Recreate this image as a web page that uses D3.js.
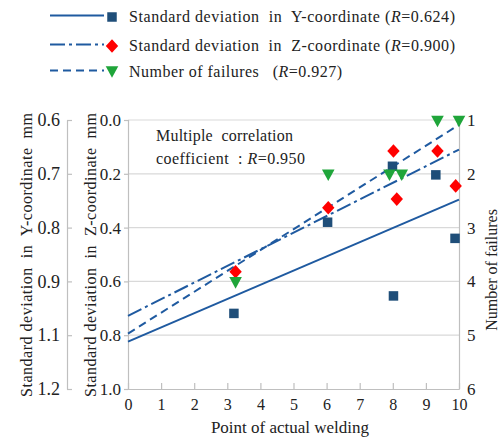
<!DOCTYPE html>
<html><head><meta charset="utf-8">
<script src="https://cdn.jsdelivr.net/npm/d3@7"></script>
<style>body{margin:0;background:#fff}svg{display:block}
svg text{font-family:"Liberation Serif","Tinos","Times New Roman","DejaVu Serif","Noto Serif",serif !important;fill:#222;white-space:pre}</style>
</head><body><svg id="c" width="502" height="437"></svg>
<script>
// ---- data ----
const xTicks = [0,1,2,3,4,5,6,7,8,9,10];
const zTicks = [0.0,0.2,0.4,0.6,0.8,1.0];
const yTicks = [0.6,0.7,0.8,0.9,1.1,1.2];
const fTicks = [1,2,3,4,5,6];
// Standard deviation in Y-coordinate (squares)
const sqX = [3.2, 6.03, 7.99, 8.02, 9.3, 9.88];
const sqY = [1.019, 0.79, 0.686, 0.954, 0.702, 0.82];
// Standard deviation in Z-coordinate (diamonds)
const diX = [3.25, 6.05, 8.02, 8.12, 9.35, 9.9];
const diZ = [0.564, 0.326, 0.115, 0.294, 0.115, 0.245];
// Number of failures (triangles)
const trX = [3.25, 6.05, 7.9, 8.27, 9.35, 10];
const trF = [4, 2, 2, 2, 1, 1];
// regression lines (endpoints)
const fitYx = [0, 10], fitY = [1.112, 0.748];
const fitZx = [0, 10], fitZ = [0.728, 0.110];
const fitFx = [0, 10], fitF = [4.97, 1.09];

const legendLabels = [
  ["Standard deviation  in  Y-coordinate (", "R", "=0.624)"],
  ["Standard deviation  in  Z-coordinate (", "R", "=0.900)"],
  ["Number of failures   (", "R", "=0.927)"]
];

// ---- layout ----
const svg = d3.select("#c");
const FONT = '"Liberation Serif","Tinos","Times New Roman","DejaVu Serif",serif';
const L = 128, R = 459, T = 120, B = 389;
const lineCol = "#1f5aa0", sqCol = "#1f4e79", diCol = "#ff0000", trCol = "#1fa53a";
const axisCol = "#bfbfbf", gridCol = "#d9d9d9";

const x = d3.scaleLinear().domain([0,10]).range([L,R]);
const z = d3.scaleLinear().domain([0,1]).range([T,B]);
const f = d3.scaleLinear().domain([1,6]).range([T,B]);
const y = d3.scaleLinear().domain(yTicks).range(zTicks.map(z));

// gridlines
svg.append("g").selectAll("line").data(zTicks.slice(0,-1)).join("line")
  .attr("x1",L).attr("x2",R).attr("y1",d=>z(d)).attr("y2",d=>z(d))
  .attr("stroke",gridCol).attr("stroke-width",1.2);

function styleAxis(g){
  g.attr("font-family",FONT);
  g.select(".domain").attr("stroke",axisCol).attr("stroke-width",1.2);
  g.selectAll(".tick line").attr("stroke",axisCol).attr("stroke-width",1.2);
  g.selectAll(".tick text").attr("fill","#222");
}

// X axis (ticks inward)
const gx = svg.append("g").attr("transform",`translate(0,${B})`)
  .call(d3.axisBottom(x).tickValues(xTicks).tickSizeInner(-6).tickSizeOuter(0).tickPadding(10).tickFormat(d3.format("d")));
styleAxis(gx);
gx.selectAll(".tick text").style("font-size","16px");

// Z axis (left border)
const gz = svg.append("g").attr("transform",`translate(${L},0)`)
  .call(d3.axisLeft(z).tickValues(zTicks).tickSize(4).tickPadding(3).tickFormat(d3.format(".1f")));
styleAxis(gz);
gz.selectAll(".tick text").style("font-size","17px");

// Right axis (failures)
const gf = svg.append("g").attr("transform",`translate(${R},0)`)
  .call(d3.axisRight(f).tickValues(fTicks).tickSize(0).tickPadding(8).tickFormat(d3.format("d")));
styleAxis(gf);
gf.selectAll(".tick text").style("font-size","17px");

// Y axis (outer left)
const gy = svg.append("g").attr("transform",`translate(67,0)`)
  .call(d3.axisRight(y).tickValues(yTicks).tickSize(5).tickSizeOuter(0).tickFormat(d3.format(".1f")));
styleAxis(gy);
gy.selectAll(".tick text").attr("x",-7).attr("text-anchor","end").style("font-size","18px");

// axis titles
svg.append("text").attr("transform","translate(32,255) rotate(-90)").attr("text-anchor","middle")
  .attr("textLength",284).attr("lengthAdjust","spacing")
  .style("font-size","16px").text("Standard deviation  in  Y-coordinate  mm");
svg.append("text").attr("transform","translate(96,255) rotate(-90)").attr("text-anchor","middle")
  .attr("textLength",284).attr("lengthAdjust","spacing")
  .style("font-size","16px").text("Standard deviation  in  Z-coordinate  mm");
svg.append("text").attr("transform","translate(497,270) rotate(-90)").attr("text-anchor","middle")
  .style("font-size","16px").text("Number of failures");
svg.append("text").attr("x",290).attr("y",433).attr("text-anchor","middle")
  .style("font-size","17px").text("Point of actual welding");

// annotation
const ann = svg.append("text").attr("x",156).attr("y",141).style("font-size","16px")
  .attr("textLength",137).attr("lengthAdjust","spacing");
ann.append("tspan").text("Multiple  correlation");
const ann2 = svg.append("text").attr("x",156).attr("y",164).style("font-size","16px")
  .attr("textLength",149).attr("lengthAdjust","spacing");
ann2.append("tspan").text("coefficient  : ");
ann2.append("tspan").style("font-style","italic").text("R");
ann2.append("tspan").text("=0.950");

// regression lines
const dashes = [null, "15,4,3,4", "8,5"];
const lg = d3.line();
svg.append("path").attr("d",lg(fitYx.map((d,i)=>[x(d),y(fitY[i])])))
  .attr("stroke",lineCol).attr("stroke-width",2).attr("fill","none");
svg.append("path").attr("d",lg(fitZx.map((d,i)=>[x(d),z(fitZ[i])])))
  .attr("stroke",lineCol).attr("stroke-width",2).attr("fill","none").attr("stroke-dasharray",dashes[1]);
svg.append("path").attr("d",lg(fitFx.map((d,i)=>[x(d),f(fitF[i])])))
  .attr("stroke",lineCol).attr("stroke-width",2).attr("fill","none").attr("stroke-dasharray",dashes[2]);

// markers
const sqPath = "M-4.75,-4.75H4.75V4.75H-4.75Z";
const diPath = "M0,-6.8L6.2,0L0,6.8L-6.2,0Z";
const trPath = "M-6.3,-5.8H6.3L0,5.8Z";
svg.append("g").selectAll("path").data(sqX).join("path")
  .attr("transform",(d,i)=>`translate(${x(d)},${y(sqY[i])})`).attr("d",sqPath).attr("fill",sqCol);
svg.append("g").selectAll("path").data(diX).join("path")
  .attr("transform",(d,i)=>`translate(${x(d)},${z(diZ[i])})`).attr("d",diPath).attr("fill",diCol);
svg.append("g").selectAll("path").data(trX).join("path")
  .attr("transform",(d,i)=>`translate(${x(d)},${f(trF[i])+1.5})`).attr("d",trPath).attr("fill",trCol);

// legend
const rows = [17, 46, 72];
const legendWidths = [326, 326, 213];
const markers = [[sqPath,sqCol],[diPath,diCol],[trPath,trCol]];
rows.forEach((ry,i)=>{
  const g = svg.append("g");
  g.append("line").attr("x1",50).attr("x2",104).attr("y1",ry-1.5).attr("y2",ry-1.5)
    .attr("stroke",lineCol).attr("stroke-width",2).attr("stroke-dasharray",dashes[i]);
  g.append("path").attr("transform",`translate(112,${ry})`).attr("d",markers[i][0]).attr("fill",markers[i][1]);
  const t = g.append("text").attr("x",129).attr("y",ry+5).style("font-size","16px")
    .attr("textLength",legendWidths[i]).attr("lengthAdjust","spacing");
  t.append("tspan").text(legendLabels[i][0]);
  t.append("tspan").style("font-style","italic").text(legendLabels[i][1]);
  t.append("tspan").text(legendLabels[i][2]);
});
</script></body></html>
